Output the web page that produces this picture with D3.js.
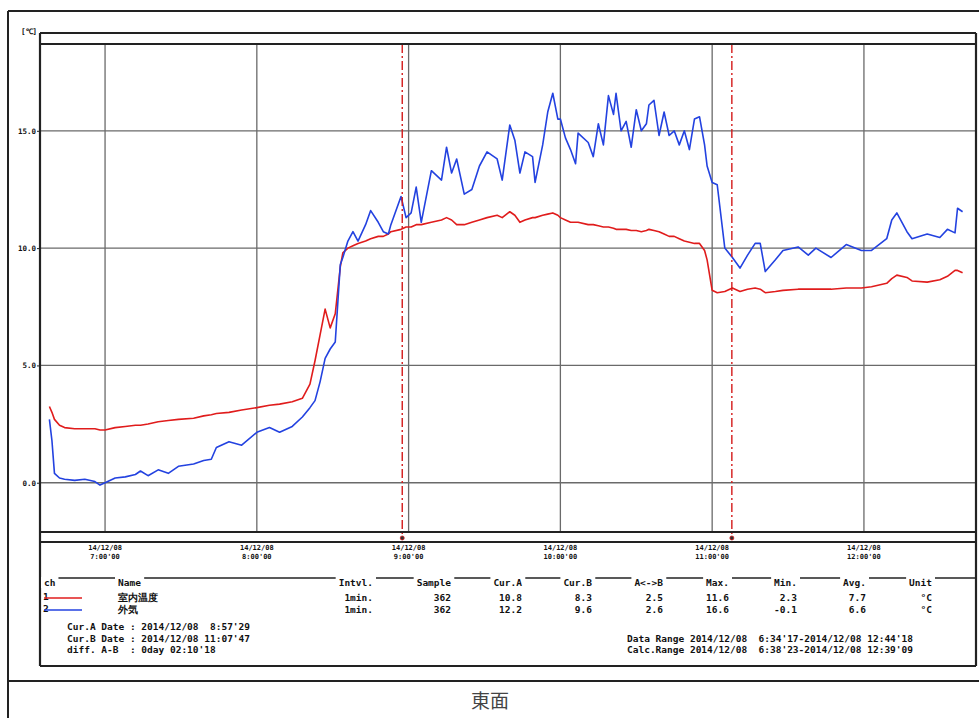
<!DOCTYPE html>
<html>
<head>
<meta charset="utf-8">
<script src="https://cdn.jsdelivr.net/npm/d3@7"></script>
<style>
body { margin: 0; background: #fff; }
svg { display: block; }
.mono { font-family: "DejaVu Sans Mono", "Liberation Mono", monospace; font-weight: bold; fill: #111; }
</style>
</head>
<body>
<div id="chart"></div>
<script>
// sample times (2014/12/08) and the two channels
var times = ["6:38","6:39","6:40","6:42","6:44","6:48","6:52","6:56","6:58","7:00",
  "7:04","7:08","7:12","7:14","7:17","7:21","7:25","7:29","7:35","7:39",
  "7:42","7:44","7:49","7:54","8:00","8:05","8:09","8:14","8:18","8:21",
  "8:23","8:25","8:27","8:29","8:31","8:33","8:34","8:36","8:38","8:40",
  "8:43","8:45","8:48","8:50","8:52","8:53","8:57","8:59","9:01","9:03",
  "9:05","9:09","9:13","9:15","9:17","9:19","9:22","9:25","9:28","9:31",
  "9:35","9:37","9:40","9:42","9:44","9:46","9:49","9:50","9:53","9:55",
  "9:57","9:59","10:00","10:02","10:04","10:06","10:07","10:11","10:13","10:15",
  "10:17","10:19","10:21","10:22","10:24","10:26","10:28","10:30","10:32","10:34",
  "10:35","10:37","10:39","10:41","10:43","10:45","10:47","10:49","10:51","10:53",
  "10:55","10:57","10:58","11:00","11:02","11:05","11:08","11:11","11:14","11:17",
  "11:19","11:21","11:25","11:28","11:34","11:38","11:41","11:47","11:53","11:59",
  "12:03","12:09","12:11","12:13","12:17","12:19","12:25","12:30","12:33","12:36",
  "12:37","12:39"];
var ch1 = [3.25,3.0,2.7,2.45,2.35,2.3,2.3,2.3,2.25,2.25,
  2.35,2.4,2.45,2.45,2.5,2.6,2.65,2.7,2.75,2.85,
  2.9,2.95,3.0,3.1,3.2,3.3,3.35,3.45,3.6,4.2,
  5.2,6.3,7.4,6.6,7.2,9.2,9.8,10.0,10.1,10.2,
  10.3,10.4,10.5,10.5,10.6,10.7,10.8,10.9,10.9,11.0,
  11.0,11.1,11.2,11.3,11.2,11.0,11.0,11.1,11.2,11.3,
  11.4,11.3,11.55,11.4,11.1,11.2,11.3,11.3,11.4,11.45,
  11.5,11.4,11.3,11.2,11.1,11.1,11.1,11.0,11.0,10.95,
  10.9,10.9,10.85,10.8,10.8,10.8,10.75,10.75,10.7,10.75,
  10.8,10.75,10.7,10.6,10.5,10.5,10.4,10.3,10.25,10.2,
  10.2,9.9,9.5,8.2,8.1,8.15,8.3,8.15,8.25,8.3,
  8.25,8.1,8.15,8.2,8.25,8.25,8.25,8.25,8.3,8.3,
  8.35,8.5,8.7,8.85,8.75,8.6,8.55,8.65,8.8,9.05,
  9.05,8.95];
var ch2 = [2.7,1.8,0.4,0.2,0.15,0.1,0.15,0.05,-0.1,0.0,
  0.2,0.25,0.35,0.5,0.3,0.55,0.4,0.7,0.8,0.95,
  1.0,1.5,1.75,1.6,2.15,2.35,2.15,2.4,2.8,3.2,
  3.5,4.3,5.3,5.7,6.0,9.3,9.6,10.3,10.7,10.3,
  11.0,11.6,11.1,10.7,10.6,11.0,12.2,11.3,11.5,12.6,
  11.1,13.3,12.9,14.3,13.2,13.8,12.3,12.5,13.5,14.1,
  13.8,12.9,15.25,14.6,13.2,14.1,13.9,12.8,14.4,15.8,
  16.6,15.5,15.5,14.7,14.2,13.6,14.9,14.5,13.9,15.3,
  14.4,16.5,15.7,16.6,15.0,15.4,14.3,15.9,15.0,15.3,
  16.1,16.3,14.8,15.8,14.8,15.0,14.4,15.0,14.2,15.5,
  15.6,14.4,13.5,12.8,12.7,10.0,9.6,9.15,9.7,10.2,
  10.2,9.0,9.5,9.9,10.05,9.7,10.0,9.6,10.15,9.9,
  9.9,10.4,11.2,11.5,10.7,10.4,10.6,10.45,10.8,10.65,
  11.7,11.55];

var yTicks = [0, 5, 10, 15];
var hourTicks = ["7:00","8:00","9:00","10:00","11:00","12:00"];
var cursors = ["8:57:29", "11:07:47"];
var dataRange = ["6:34:17", "12:44:18"];

var chIds = ["1", "2"];
var chNames = ["室内温度", "外気"];
var colHeads = ["Intvl.", "Sample", "Cur.A", "Cur.B", "A<->B", "Max.", "Min.", "Avg.", "Unit"];
var rowCh1 = ["1min.", "362", "10.8", "8.3", "2.5", "11.6", "2.3", "7.7", "°C"];
var rowCh2 = ["1min.", "362", "12.2", "9.6", "2.6", "16.6", "-0.1", "6.6", "°C"];
var cursorInfo = ["Cur.A Date : 2014/12/08  8:57'29",
                  "Cur.B Date : 2014/12/08 11:07'47",
                  "diff. A-B  : 0day 02:10'18"];
var rangeInfo = ["Data Range 2014/12/08  6:34'17-2014/12/08 12:44'18",
                 "Calc.Range 2014/12/08  6:38'23-2014/12/08 12:39'09"];
var caption = "東面";

var colors = ["#e01c1c", "#2342e0"];

var W = 979, H = 718;
var L = 40, R = 976, top1 = 33, top2 = 44, bot1 = 532, bot2 = 542, boxBottom = 666;

var parseHM = d3.timeParse("%Y-%m-%d %H:%M");
var parseHMS = d3.timeParse("%Y-%m-%d %H:%M:%S");
function t(s) { return (s.split(":").length == 3 ? parseHMS : parseHM)("2014-12-08 " + s); }

var svg = d3.select("#chart").append("svg").attr("width", W).attr("height", H);

var x = d3.scaleTime().domain(dataRange.map(t)).range([L, R]);
var y = d3.scaleLinear().domain([-2.1, 18.7]).range([bot1, top2]);

var frame = "#222";
function hline(y0, x1, x2, w) {
  svg.append("line").attr("x1", x1).attr("x2", x2).attr("y1", y0).attr("y2", y0)
    .style("stroke", frame).style("stroke-width", w || 2);
}
function vline(x0, y1, y2, w) {
  svg.append("line").attr("x1", x0).attr("x2", x0).attr("y1", y1).attr("y2", y2)
    .style("stroke", frame).style("stroke-width", w || 2);
}

// outer page frame
hline(11, 8, W, 2);
vline(8, 11, H, 2);
hline(681, 8, W, 2);

// grid
var grid = svg.append("g").attr("id", "grid");
grid.selectAll("line.v").data(hourTicks).enter().append("line")
  .attr("x1", function(d) { return x(t(d)); })
  .attr("x2", function(d) { return x(t(d)); })
  .attr("y1", top2).attr("y2", bot1)
  .style("stroke", "#6a6a6a").style("stroke-width", 1.3);
grid.selectAll("line.h").data(yTicks).enter().append("line")
  .attr("x1", L).attr("x2", R)
  .attr("y1", function(d) { return y(d); })
  .attr("y2", function(d) { return y(d); })
  .style("stroke", "#6a6a6a").style("stroke-width", 1.3);

// y axis labels
var yAxis = d3.axisLeft(y).tickValues(yTicks).tickSize(3).tickPadding(1)
  .tickFormat(d3.format(".1f"));
var ya = svg.append("g").attr("transform", "translate(" + L + ",0)").call(yAxis);
ya.select(".domain").remove();
ya.selectAll("line").style("stroke", frame);
ya.selectAll("text").attr("class", "mono").style("font-size", "7.5px");

svg.append("text").attr("class", "mono").attr("x", 21).attr("y", 34)
  .style("font-size", "7.5px").text("[℃]");

// series
var line = d3.line()
  .x(function(d) { return x(t(d[0])); })
  .y(function(d) { return y(d[1]); });
[ch1, ch2].forEach(function(s, i) {
  svg.append("path")
    .datum(times.map(function(tm, k) { return [tm, s[k]]; }))
    .attr("d", line)
    .style("fill", "none")
    .style("stroke", colors[i])
    .style("stroke-width", 1.6)
    .style("stroke-linejoin", "round");
});

// cursors
svg.selectAll("line.cur").data(cursors).enter().append("line")
  .attr("x1", function(d) { return x(t(d)); })
  .attr("x2", function(d) { return x(t(d)); })
  .attr("y1", top2).attr("y2", bot2 - 2)
  .style("stroke", "#d41a1a").style("stroke-width", 1.4)
  .style("stroke-dasharray", "9,3,2,3");

// plot frame
hline(top1, L, R, 2.2);
hline(top2, L, R, 2);
hline(bot1, L, R, 2);
hline(bot2, L, R, 2);
vline(L, top1, boxBottom, 2.2);
vline(R, top1, boxBottom, 2.2);

svg.selectAll("circle.cur").data(cursors).enter().append("circle")
  .attr("cx", function(d) { return x(t(d)); })
  .attr("cy", bot2 - 4)
  .attr("r", 2)
  .style("fill", "#333").style("stroke", "#d41a1a").style("stroke-width", 0.8);

// x axis labels, two lines each
var xl = svg.append("g").selectAll("text").data(hourTicks).enter().append("text")
  .attr("class", "mono")
  .attr("text-anchor", "middle")
  .style("font-size", "7px");
xl.append("tspan").attr("x", function(d) { return x(t(d)); }).attr("y", 550).text("14/12/08");
xl.append("tspan").attr("x", function(d) { return x(t(d)); }).attr("y", 559)
  .text(function(d) { return d + "'00"; });

// channel table
var headY = 578;
hline(headY, L, R, 1.6);
var fs = "9.5px";
var colRight = [373, 451, 522, 592, 663, 729, 797, 866, 932];

function label(xp, yp, s, anchor, bg) {
  var el = svg.append("text").attr("class", "mono").attr("x", xp).attr("y", yp)
    .attr("text-anchor", anchor || "start").style("font-size", fs).text(s);
  if (bg) {
    var b = el.node().getBBox();
    svg.insert("rect", function() { return el.node(); })
      .attr("x", b.x - 3).attr("y", b.y).attr("width", b.width + 6).attr("height", b.height)
      .style("fill", "#fff");
  }
  return el;
}
label(44, 586, "ch", "start", true);
label(118, 586, "Name", "start", true);
colHeads.forEach(function(h, i) { label(colRight[i], 586, h, "end", true); });

var rowY = [601, 613];
[rowCh1, rowCh2].forEach(function(row, r) {
  label(43, rowY[r] - 1, chIds[r]);
  svg.append("line").attr("x1", 44).attr("x2", 82)
    .attr("y1", rowY[r] - 3).attr("y2", rowY[r] - 3)
    .style("stroke", colors[r]).style("stroke-width", 1.6);
  label(118, rowY[r], chNames[r]);
  row.forEach(function(v, i) { label(colRight[i], rowY[r], v, "end"); });
});

cursorInfo.forEach(function(s, i) {
  label(67, 630 + i * 11.5, s).style("white-space", "pre");
});
rangeInfo.forEach(function(s, i) {
  label(627, 641.5 + i * 11.5, s).style("white-space", "pre");
});

hline(boxBottom, L, R, 2);

// caption
svg.append("text").attr("x", 490).attr("y", 708).attr("text-anchor", "middle")
  .style("font-family", "'Noto Sans CJK JP', sans-serif")
  .style("font-size", "19px").style("fill", "#444").text(caption);
</script>
</body>
</html>
